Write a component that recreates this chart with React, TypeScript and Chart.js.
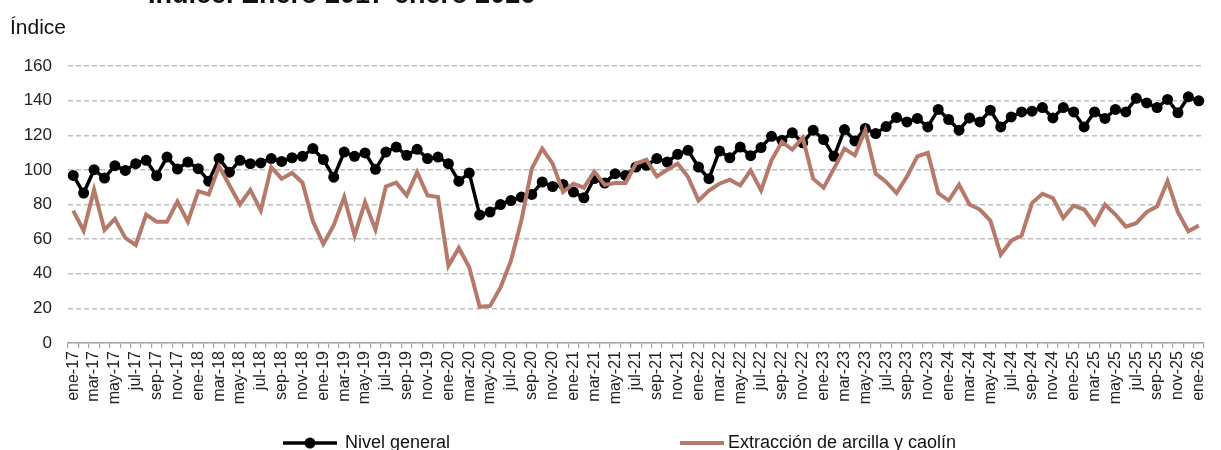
import React, { useEffect, useRef } from "react";
import { Chart, registerables } from "chart.js";

Chart.register(...registerables);

const monthNames = ["ene", "feb", "mar", "abr", "may", "jun", "jul", "ago", "sep", "oct", "nov", "dic"];
const years = ["17", "18", "19", "20", "21", "22", "23", "24", "25", "26"];

const categories: string[] = [];
years.forEach((y, yi) => {
  monthNames.forEach((m, mi) => {
    if (yi === years.length - 1 && mi > 0) return;
    categories.push(`${m}-${y}`);
  });
});

const nivelGeneral = [
  96.8, 86.6, 100.1, 95.3, 102.4, 99.7, 103.6, 105.5, 96.6, 107.4, 100.5, 104.5,
  100.7, 93.5, 106.5, 98.7, 105.5, 103.6, 104, 106.5, 104.9, 107, 107.8, 112.3,
  106, 95.8, 110.3, 107.8, 109.8, 100.3, 110.3, 113.2, 108.4, 111.9, 106.5, 107.4,
  103.6, 93.5, 98.2, 74, 75.6, 80, 82.3, 84.3, 85.8, 93, 90.4, 91.6,
  87.2, 83.9, 95, 92.4, 97.8, 96.8, 101.6, 102.6, 106.5, 104.5, 109, 111.3,
  101.6, 94.9, 110.9, 107, 113.2, 108.2, 112.9, 119.4, 117.1, 121.4, 115.6, 122.9,
  117.5, 107.8, 123.3, 116.7, 123.9, 121, 125, 130.2, 127.7, 129.7, 124.8, 134.9,
  129.1, 122.9, 130, 127.7, 134.5, 124.8, 130.6, 133.5, 133.9, 136, 130, 136,
  133.5, 124.8, 133.5, 129.7, 134.9, 133.5, 141.3, 138.7, 136, 140.7, 133, 142.2,
  139.9,
];

const arcillaCaolin = [
  76.5, 64.9, 88.5, 65.3, 71.7, 60.7, 56.6, 74.2, 70.1, 70.1, 81.7, 70.1,
  87.7, 85.8, 102, 91, 80, 88.5, 76.5, 101.6, 94.9, 98.2, 92.6, 70.3,
  57.2, 68, 84.3, 62, 81.4, 65.5, 90.4, 92.6, 85.2, 98.7, 85.2, 84.3,
  44.6, 54.9, 43.7, 20.9, 21.4, 32.1, 47.5, 70.7, 100.7, 112.3, 103.6, 87.2,
  92, 89.7, 99, 91.3, 92.4, 92.4, 103.6, 105.9, 96.2, 100.1, 103.6, 95.8,
  82.3, 88.1, 92, 94.3, 91, 99.7, 88.1, 105.5, 116.1, 111.7, 118.6, 94.9,
  89.7, 100.7, 112.3, 108.4, 122.9, 97.8, 93, 86.6, 96.2, 107.8, 109.8, 86.6,
  82.3, 91.4, 80, 77.1, 70.7, 51, 59.1, 62, 80.8, 86.2, 83.7, 72.3,
  79.4, 77.1, 68.8, 80, 74.2, 67.2, 69.2, 75.6, 79, 93.5, 75.6, 64.5,
  67.8,
];

const yTicks = [0, 20, 40, 60, 80, 100, 120, 140, 160];

const FONT = "'Liberation Sans', Arial, Helvetica, sans-serif";
const BLACK = "#000000";
const BROWN = "#B57A6A";

const decorPlugin = {
  id: "decor",
  afterDraw(chart: any) {
    const ctx = chart.ctx;
    ctx.save();
    // cut-off title
    ctx.fillStyle = "#111";
    ctx.font = `bold 27px ${FONT}`;
    ctx.textBaseline = "alphabetic";
    ctx.textAlign = "left";
    ctx.fillText("Índice. Enero 2017-enero 2026", 148, 3);
    // axis title
    ctx.font = `21px ${FONT}`;
    ctx.fillStyle = "#111";
    ctx.fillText("Índice", 10, 34);

    // legend
    const ly = 443;
    ctx.strokeStyle = BLACK;
    ctx.lineWidth = 3.5;
    ctx.beginPath();
    ctx.moveTo(283, ly);
    ctx.lineTo(337, ly);
    ctx.stroke();
    ctx.fillStyle = BLACK;
    ctx.beginPath();
    ctx.arc(310, ly, 5.5, 0, Math.PI * 2);
    ctx.fill();
    ctx.font = `18px ${FONT}`;
    ctx.fillStyle = "#111";
    ctx.fillText("Nivel general", 345, 448);

    ctx.strokeStyle = BROWN;
    ctx.lineWidth = 4;
    ctx.beginPath();
    ctx.moveTo(680, ly);
    ctx.lineTo(724, ly);
    ctx.stroke();
    ctx.fillStyle = "#111";
    ctx.fillText("Extracción de arcilla y caolín", 728, 448);
    ctx.restore();
  },
};

export default function App() {
  const ref = useRef<HTMLCanvasElement | null>(null);

  useEffect(() => {
    if (!ref.current) return;
    const chart = new Chart(ref.current, {
      type: "line",
      data: {
        labels: categories,
        datasets: [
          {
            label: "Nivel general",
            data: nivelGeneral,
            borderColor: BLACK,
            backgroundColor: BLACK,
            borderWidth: 3.5,
            pointRadius: 5.5,
            pointBorderWidth: 0,
            pointBackgroundColor: BLACK,
            tension: 0,
            order: 2,
          },
          {
            label: "Extracción de arcilla y caolín",
            data: arcillaCaolin,
            borderColor: BROWN,
            backgroundColor: BROWN,
            borderWidth: 4,
            pointRadius: 0,
            tension: 0,
            order: 1,
          },
        ],
      },
      options: {
        animation: false,
        responsive: false,
        maintainAspectRatio: false,
        layout: { padding: { top: 66, right: 1, left: 0, bottom: 0 } },
        plugins: {
          legend: { display: false },
          tooltip: { enabled: false },
          title: { display: false },
        },
        scales: {
          x: {
            type: "category",
            offset: true,
            grid: {
              offset: true,
              drawOnChartArea: false,
              drawTicks: true,
              tickLength: 5,
              color: "#A6A6A6",
              lineWidth: 1.2,
            },
            border: { display: true, color: "#A6A6A6", width: 1.5 },
            ticks: {
              autoSkip: false,
              maxRotation: 90,
              minRotation: 90,
              padding: 3,
              color: "#222",
              font: { family: FONT, size: 16 },
              callback: (_v: any, i: number) => (i % 2 === 0 ? categories[i] : ""),
            },
            afterFit: (scale: any) => {
              scale.height = 107;
            },
          },
          y: {
            min: 0,
            max: 160,
            afterBuildTicks: (scale: any) => {
              scale.ticks = yTicks.map((v) => ({ value: v }));
            },
            grid: {
              drawTicks: false,
              tickLength: 0,
              color: "#BFBFBF",
              lineWidth: 1.5,
            },
            border: { display: false, dash: [5, 3] },
            ticks: {
              padding: 16,
              color: "#222",
              font: { family: FONT, size: 17 },
            },
            afterFit: (scale: any) => {
              scale.width = 68;
            },
          },
        },
      },
      plugins: [decorPlugin],
    });
    return () => chart.destroy();
  }, []);

  return (
    <div style={{ position: "fixed", left: 0, top: 0, width: 1221, height: 450, background: "#fff" }}>
      <canvas ref={ref} width={1221} height={450} style={{ width: 1221, height: 450, display: "block" }} />
    </div>
  );
}
